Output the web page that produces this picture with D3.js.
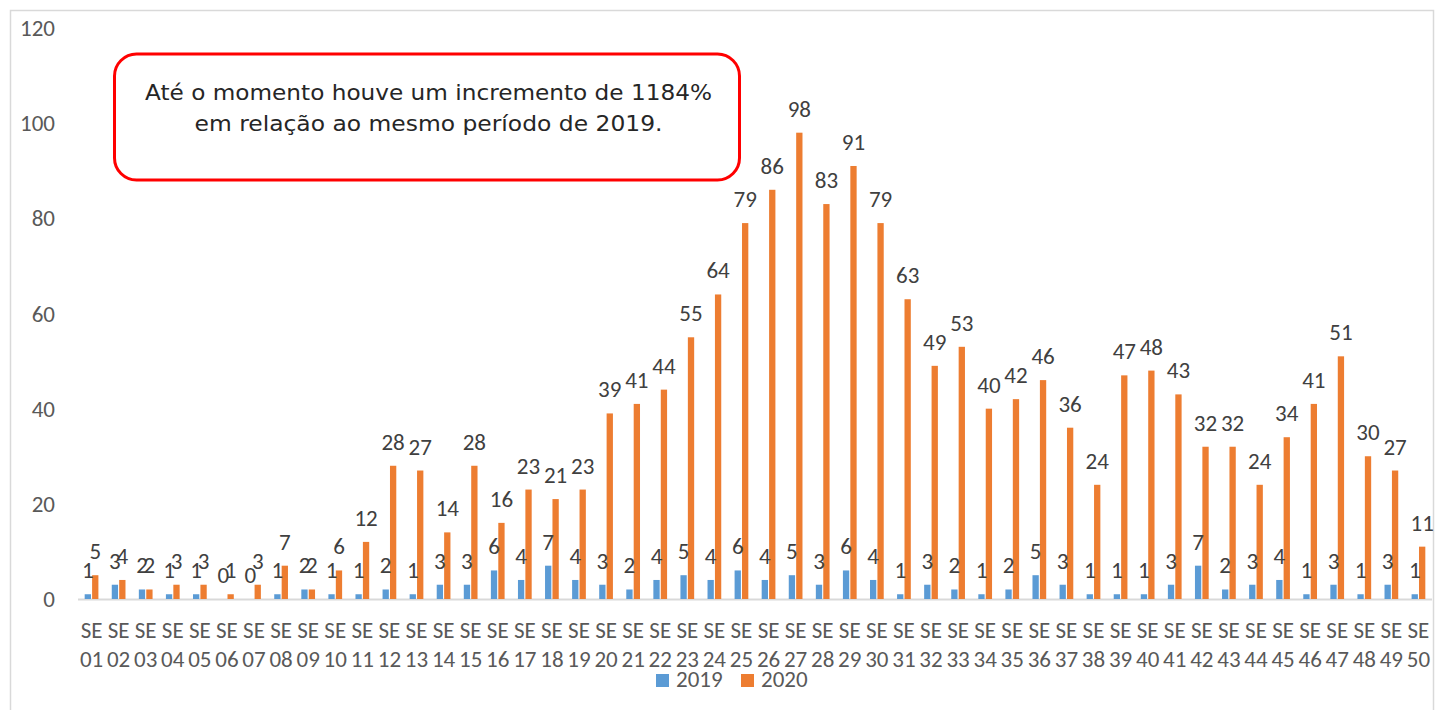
<!DOCTYPE html>
<html><head><meta charset="utf-8">
<script src="https://cdn.jsdelivr.net/npm/d3@7"></script>
<style>body{margin:0;background:#fff}svg{display:block}</style>
</head><body>
<svg id="c" width="1435" height="710"></svg>
<script>
const categories = ["01","02","03","04","05","06","07","08","09","10","11","12","13","14","15","16","17","18","19","20","21","22","23","24","25","26","27","28","29","30","31","32","33","34","35","36","37","38","39","40","41","42","43","44","45","46","47","48","49","50"];
const values2019 = [1,3,2,1,1,0,0,1,2,1,1,2,1,3,3,6,4,7,4,3,2,4,5,4,6,4,5,3,6,4,1,3,2,1,2,5,3,1,1,1,3,7,2,3,4,1,3,1,3,1];
const values2020 = [5,4,2,3,3,1,3,7,2,6,12,28,27,14,28,16,23,21,23,39,41,44,55,64,79,86,98,83,91,79,63,49,53,40,42,46,36,24,47,48,43,32,32,24,34,41,51,30,27,11];
const yTicks = [0,20,40,60,80,100,120];
const seriesNames = ["2019","2020"];
const colors = ["#5B9BD5","#ED7D31"];
const noteLines = ["Até o momento houve um incremento de 1184%","em relação ao mesmo período de 2019."];

const svg = d3.select("#c");
const font = "Carlito, Calibri, 'Liberation Sans', sans-serif";
const fs = 23;
svg.append("rect").attr("x",10.5).attr("y",10.5).attr("width",1423).attr("height",720)
  .attr("fill","none").attr("stroke","#D9D9D9").attr("stroke-width",1.5);

const x = d3.scaleBand().domain(categories).range([78,1432]).paddingInner(0).paddingOuter(0);
const y = d3.scaleLinear().domain([0,120]).range([599,28]);
const sub = d3.scaleBand().domain(seriesNames).range([0,x.bandwidth()]).paddingInner(0.15).paddingOuter(0.9);

svg.append("g").selectAll("text").data(yTicks).join("text")
  .attr("x",55).attr("y",d=>y(d)).attr("dy","0.35em").attr("text-anchor","end")
  .attr("font-family",font).attr("font-size",fs).attr("fill","#595959").text(d=>d);

svg.append("line").attr("x1",78).attr("x2",1432).attr("y1",y(0)+0.5).attr("y2",y(0)+0.5)
  .attr("stroke","#D9D9D9").attr("stroke-width",2);

const data = categories.map((c,i)=>({c, v:[values2019[i],values2020[i]]}));
const g = svg.append("g");
data.forEach(d=>{
  seriesNames.forEach((s,k)=>{
    const v = d.v[k];
    const bx = x(d.c)+sub(s);
    g.append("rect").attr("x",bx).attr("y",y(v)).attr("width",sub.bandwidth())
      .attr("height",y(0)-y(v)).attr("fill",colors[k]);
  });
});
data.forEach(d=>{
  seriesNames.forEach((s,k)=>{
    const v = d.v[k];
    const bx = x(d.c)+sub(s);
    g.append("text").attr("x",bx+sub.bandwidth()/2).attr("y",y(v)-16)
      .attr("text-anchor","middle").attr("font-family",font).attr("font-size",fs)
      .attr("fill","#404040").text(v);
  });
});

const xl = svg.append("g");
categories.forEach(c=>{
  const cx = x(c)+x.bandwidth()/2;
  xl.append("text").attr("x",cx).attr("y",638).attr("text-anchor","middle")
    .attr("font-family",font).attr("font-size",fs).attr("fill","#595959").text("SE");
  xl.append("text").attr("x",cx).attr("y",667).attr("text-anchor","middle")
    .attr("font-family",font).attr("font-size",fs).attr("fill","#595959").text(c);
});

const leg = svg.append("g");
const legX = [656,741];
seriesNames.forEach((s,k)=>{
  leg.append("rect").attr("x",legX[k]).attr("y",674).attr("width",13).attr("height",13).attr("fill",colors[k]);
  leg.append("text").attr("x",legX[k]+20).attr("y",687).attr("font-family",font).attr("font-size",fs)
    .attr("fill","#595959").text(s);
});

svg.append("rect").attr("x",114.5).attr("y",54).attr("width",625).attr("height",126).attr("rx",22)
  .attr("fill","#fff").attr("stroke","#FF0000").attr("stroke-width",3);
const noteW = [567,468];
svg.append("g").selectAll("text").data(noteLines).join("text")
  .attr("x",428.5).attr("y",(d,i)=>100+i*31).attr("text-anchor","middle")
  .attr("font-family","'DejaVu Sans', sans-serif").attr("font-size",22)
  .attr("textLength",(d,i)=>noteW[i]).attr("lengthAdjust","spacingAndGlyphs")
  .attr("fill","#262626").text(d=>d);
</script>
</body></html>
